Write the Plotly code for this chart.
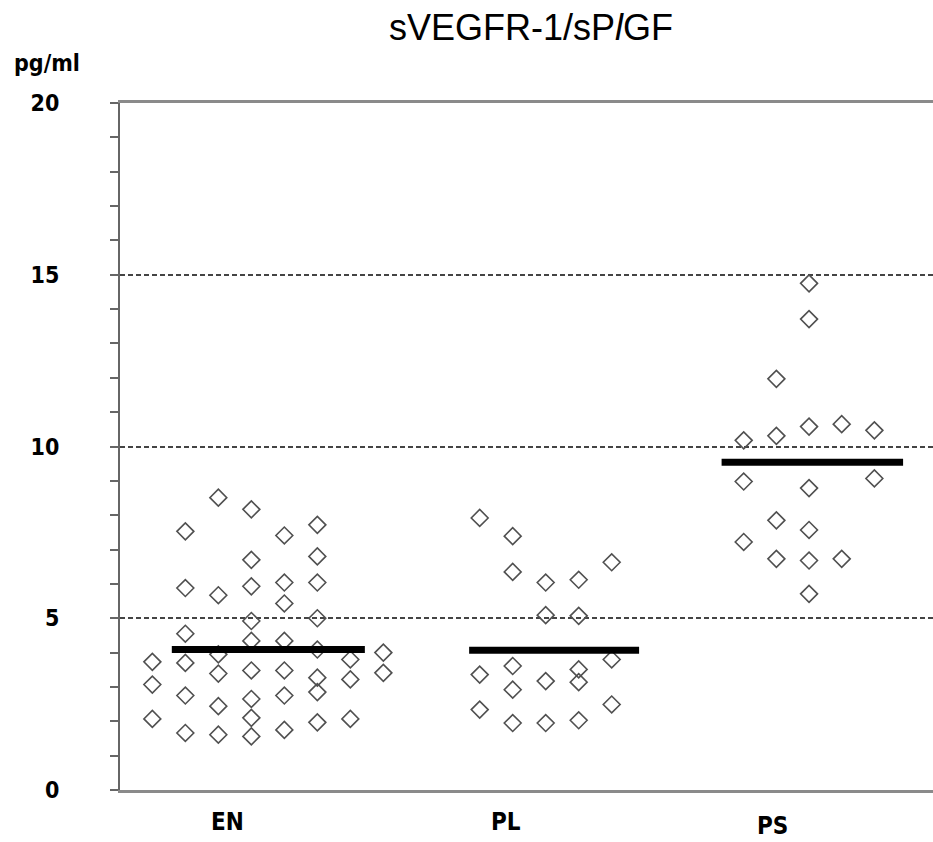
import plotly.graph_objects as go

# ---------------- data ----------------
groups = ["EN", "PL", "PS"]

# column index within group and value for each diamond
EN_col = [0, 0, 0,
          1, 1, 1, 1, 1, 1,
          2, 2, 2, 2, 2, 2,
          3, 3, 3, 3, 3, 3, 3, 3, 3,
          4, 4, 4, 4, 4, 4, 4,
          5, 5, 5, 5, 5, 5, 5, 5,
          6, 6, 6,
          7, 7]
EN_val = [3.73, 3.07, 2.07,
          7.53, 5.88, 4.55, 3.70, 2.75, 1.66,
          8.51, 5.67, 3.95, 3.39, 2.44, 1.61,
          8.17, 6.70, 5.93, 4.92, 4.34, 3.48, 2.65, 2.10, 1.56,
          7.41, 6.04, 5.43, 4.34, 3.48, 2.75, 1.75,
          7.72, 6.80, 6.04, 5.00, 4.09, 3.27, 2.85, 1.97,
          3.80, 3.22, 2.07,
          4.00, 3.41]

PL_col = [0, 0, 0,
          1, 1, 1, 1, 1,
          2, 2, 2, 2,
          3, 3, 3, 3, 3,
          4, 4, 4]
PL_val = [7.92, 3.36, 2.34,
          7.39, 6.35, 3.61, 2.92, 1.95,
          6.04, 5.09, 3.17, 1.95,
          6.12, 5.07, 3.51, 3.14, 2.03,
          6.63, 3.80, 2.49]

PS_col = [0, 0, 0,
          1, 1, 1, 1,
          2, 2, 2, 2, 2, 2, 2,
          3, 3,
          4, 4]
PS_val = [10.18, 8.98, 7.22,
          11.97, 10.31, 7.85, 6.73,
          14.75, 13.71, 10.58, 8.79, 7.57, 6.68, 5.71,
          10.65, 6.73,
          10.47, 9.07]

medians = [4.09, 4.07, 9.54]

y_ticks = [0, 5, 10, 15, 20]

# ---------------- layout helpers (positions / styles) ----------------
group_start = [0.98, 10.9, 18.9]       # x of first column of each group
col_step = [1.0, 1.0, 0.99]
median_span = [(1.57, 7.42), (10.58, 15.73), (18.23, 23.73)]
label_x = [3.27, 11.70, 19.76]
label_shift = [0, 0, -4]

cols = [EN_col, PL_col, PS_col]
vals = [EN_val, PL_val, PS_val]

fig = go.Figure()

for g, c, v, s, st in zip(groups, cols, vals, group_start, col_step):
    fig.add_trace(go.Scatter(
        x=[s + k * st for k in c], y=v, mode="markers", name=g,
        marker=dict(symbol="diamond-open", size=13,
                    line=dict(color="#505050", width=1.6), color="#505050"),
        showlegend=False, hoverinfo="y"))

for g, m, (a, b) in zip(groups, medians, median_span):
    fig.add_trace(go.Scatter(
        x=[a, b], y=[m, m], mode="lines",
        line=dict(color="black", width=7),
        showlegend=False, hoverinfo="y"))

bold_font = "Liberation Sans Narrow, DejaVu Sans Condensed, Arial, sans-serif"

for g, lx, sh in zip(groups, label_x, label_shift):
    fig.add_annotation(x=lx, y=0, xref="x", yref="paper", text=g,
                       showarrow=False, yanchor="top", yshift=-16 + sh,
                       font=dict(family=bold_font, size=24, color="black", weight="bold"))

fig.add_annotation(x=-120 / 813 + 47 / 813, y=1 + (102.7 - 63) / 687.3,
                   xref="paper", yref="paper", text="pg/ml",
                   showarrow=False, xanchor="center", yanchor="middle",
                   font=dict(family=bold_font, size=23, color="black", weight="bold"))

fig.update_layout(
    width=933, height=842,
    margin=dict(l=120, r=0, t=102.7, b=52),
    paper_bgcolor="white", plot_bgcolor="white",
    title=dict(text="sVEGFR-1/sP<i>l</i>GF", x=531 / 933, xanchor="center",
               y=1 - 27 / 842, yanchor="middle",
               font=dict(family="Arial, Liberation Sans, sans-serif", size=36, color="black")),
    xaxis=dict(range=[0, 813 / 33], showgrid=False, zeroline=False,
               showticklabels=False, ticks="",
               showline=True, linecolor="#8a8a8a", linewidth=2.5, mirror=True),
    yaxis=dict(range=[0, 20], tickvals=y_ticks, ticktext=[str(t) for t in y_ticks],
               showgrid=True, gridcolor="#444444", gridwidth=1.5, griddash="5px,3px",
               zeroline=False, showline=True, linecolor="#666666", linewidth=2,
               ticks="outside", ticklen=8, tickwidth=2, tickcolor="#666666",
               minor=dict(dtick=1, ticks="outside", ticklen=8, tickwidth=2,
                          tickcolor="#666666", showgrid=False),
               ticklabelstandoff=46,
               tickfont=dict(family=bold_font, size=23, color="black", weight="bold")),
)

fig.write_html("out.html")
